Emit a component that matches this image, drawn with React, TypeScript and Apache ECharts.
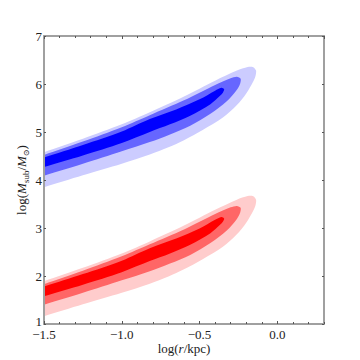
import React, { useEffect, useRef } from "react";
import * as echarts from "echarts";

// x range and tick settings
const xMin = -1.5;
const xMax = 0.3;
const yMin = 1;
const yMax = 7;

// Contours: top edge left→right, then bottom edge right→left
const blueLight: number[][] = [
  [-1.55, 4.52], [-1.5, 4.58], [-1.25, 4.86], [-1.0, 5.16], [-0.82, 5.41], [-0.6, 5.74], [-0.4, 6.07],
  [-0.26, 6.28], [-0.19, 6.355], [-0.155, 6.35], [-0.137, 6.28], [-0.14, 6.17], [-0.155, 6.05],
  [-0.2, 5.8], [-0.26, 5.56], [-0.35, 5.3], [-0.48, 5.04], [-0.6, 4.83], [-0.7, 4.68], [-0.82, 4.53],
  [-1.0, 4.34], [-1.25, 4.1], [-1.5, 3.85], [-1.55, 3.8],
];
const blueMedium: number[][] = [
  [-1.55, 4.46], [-1.5, 4.52], [-1.25, 4.8], [-1.0, 5.1], [-0.82, 5.35], [-0.6, 5.66], [-0.4, 5.98],
  [-0.3, 6.12], [-0.26, 6.15], [-0.236, 6.11], [-0.24, 6.0], [-0.26, 5.88], [-0.325, 5.64],
  [-0.43, 5.38], [-0.56, 5.13], [-0.69, 4.95], [-0.82, 4.79], [-1.0, 4.6], [-1.25, 4.34],
  [-1.5, 4.09], [-1.55, 4.04],
];
const blueDark: number[][] = [
  [-1.55, 4.42], [-1.5, 4.47], [-1.25, 4.73], [-1.0, 5.01], [-0.82, 5.27], [-0.65, 5.47], [-0.5, 5.68],
  [-0.4, 5.86], [-0.36, 5.92], [-0.342, 5.89], [-0.35, 5.82], [-0.37, 5.75], [-0.43, 5.58],
  [-0.56, 5.34], [-0.69, 5.16], [-0.82, 5.0], [-1.0, 4.77], [-1.25, 4.51], [-1.5, 4.27], [-1.55, 4.22],
];
const redLight: number[][] = [
  [-1.55, 1.83], [-1.5, 1.89], [-1.25, 2.17], [-1.0, 2.47], [-0.82, 2.72], [-0.6, 3.05], [-0.4, 3.38],
  [-0.26, 3.59], [-0.19, 3.665], [-0.155, 3.66], [-0.137, 3.59], [-0.14, 3.48], [-0.155, 3.36],
  [-0.2, 3.11], [-0.26, 2.87], [-0.35, 2.61], [-0.48, 2.35], [-0.6, 2.14], [-0.7, 1.99], [-0.82, 1.84],
  [-1.0, 1.65], [-1.25, 1.41], [-1.5, 1.16], [-1.55, 1.11],
];
const redMedium: number[][] = [
  [-1.55, 1.77], [-1.5, 1.83], [-1.25, 2.11], [-1.0, 2.41], [-0.82, 2.66], [-0.6, 2.97], [-0.4, 3.29],
  [-0.3, 3.43], [-0.26, 3.46], [-0.236, 3.42], [-0.24, 3.31], [-0.26, 3.19], [-0.325, 2.95],
  [-0.43, 2.69], [-0.56, 2.44], [-0.69, 2.26], [-0.82, 2.1], [-1.0, 1.91], [-1.25, 1.65],
  [-1.5, 1.4], [-1.55, 1.35],
];
const redDark: number[][] = [
  [-1.55, 1.73], [-1.5, 1.78], [-1.25, 2.04], [-1.0, 2.32], [-0.82, 2.58], [-0.65, 2.78], [-0.5, 2.99],
  [-0.4, 3.17], [-0.36, 3.23], [-0.342, 3.2], [-0.35, 3.13], [-0.37, 3.06], [-0.43, 2.89],
  [-0.56, 2.65], [-0.69, 2.47], [-0.82, 2.31], [-1.0, 2.08], [-1.25, 1.82], [-1.5, 1.58], [-1.55, 1.53],
];

const contours = [
  { name: "blue-1", data: blueLight, color: "#ccccff" },
  { name: "blue-2", data: blueMedium, color: "#6666ff" },
  { name: "blue-3", data: blueDark, color: "#0000ff" },
  { name: "red-1", data: redLight, color: "#ffcccc" },
  { name: "red-2", data: redMedium, color: "#ff6666" },
  { name: "red-3", data: redDark, color: "#ff0000" },
];

const FONT = "Liberation Serif";
const FRAME = "#a0a0a0";
const TICK = "#555555";
const TXT = "#222222";

function fmtX(v: number) {
  const s = Math.abs(v).toFixed(1);
  return v < -1e-9 ? "\u2212" + s : s;
}

export default function App() {
  const ref = useRef<HTMLDivElement>(null);
  useEffect(() => {
    if (!ref.current) return;
    const chart = echarts.init(ref.current, undefined, { renderer: "svg" });
    const grid = { left: 44, right: 36, top: 36, bottom: 36 };
    const baseX = {
      type: "value" as const,
      min: xMin,
      max: xMax,
      z: 10,
      splitLine: { show: false },
    };
    const baseY = {
      type: "value" as const,
      min: yMin,
      max: yMax,
      interval: 1,
      z: 10,
      splitLine: { show: false },
    };
    const rich = {
      n: { fontFamily: FONT, fontSize: 13, color: TXT, lineHeight: 18, verticalAlign: "middle" },
      i: { fontFamily: FONT, fontSize: 13, color: TXT, fontStyle: "italic", lineHeight: 18, verticalAlign: "middle" },
      s: { fontFamily: FONT, fontSize: 9, color: TXT, lineHeight: 18, verticalAlign: "bottom" },
      o: { fontFamily: "DejaVu Serif", fontSize: 8, color: TXT, lineHeight: 18, verticalAlign: "bottom" },
    };
    const option: any = {
      animation: false,
      textStyle: { fontFamily: FONT },
      grid,
      xAxis: [
        {
          ...baseX,
          position: "bottom",
          interval: 0.5,
          axisLine: { show: true, onZero: false, lineStyle: { color: FRAME, width: 2 } },
          axisTick: { show: true, inside: true, length: 3, lineStyle: { color: TICK, width: 1 } },
          axisLabel: {
            show: true,
            margin: 4,
            fontFamily: FONT,
            fontSize: 13,
            color: TXT,
            showMaxLabel: false,
            formatter: (v: number) => (v > 0.01 ? "" : fmtX(v)),
          },
          name: "{n|log(}{i|r}{n|/kpc)}",
          nameLocation: "middle",
          nameGap: 15,
          nameMoveOverlap: false,
          nameTextStyle: { rich, fontFamily: FONT },
        },
        {
          ...baseX,
          position: "bottom",
          interval: 0.1,
          axisLine: { show: false, onZero: false },
          axisTick: { show: true, inside: true, length: 2, lineStyle: { color: TICK, width: 1 } },
          axisLabel: { show: false },
        },
        {
          ...baseX,
          position: "top",
          interval: 0.5,
          axisLine: { show: true, onZero: false, lineStyle: { color: FRAME, width: 2 } },
          axisTick: { show: true, inside: true, length: 3, lineStyle: { color: TICK, width: 1 } },
          axisLabel: { show: false },
        },
        {
          ...baseX,
          position: "top",
          interval: 0.1,
          axisLine: { show: false, onZero: false },
          axisTick: { show: true, inside: true, length: 2, lineStyle: { color: TICK, width: 1 } },
          axisLabel: { show: false },
        },
      ],
      yAxis: [
        {
          ...baseY,
          position: "left",
          axisLine: { show: true, onZero: false, lineStyle: { color: FRAME, width: 2 } },
          axisTick: { show: true, inside: true, length: 2, lineStyle: { color: TICK, width: 1 } },
          axisLabel: {
            show: true,
            margin: 2,
            fontFamily: FONT,
            fontSize: 13,
            color: TXT,
            formatter: (v: number) => (v === yMin ? "{b|" + v + "}" : String(v)),
            rich: { b: { fontFamily: FONT, fontSize: 13, color: TXT, padding: [0, 0, 6, 0] } },
          },
          name: "{n|log(}{i|M}{s|sub}{n|/}{i|M}{o|\u2299}{n|)}",
          nameLocation: "middle",
          nameRotate: 90,
          nameGap: 14,
          nameMoveOverlap: false,
          nameTextStyle: { rich, fontFamily: FONT },
        },
        {
          ...baseY,
          position: "right",
          axisLine: { show: true, onZero: false, lineStyle: { color: FRAME, width: 2 } },
          axisTick: { show: true, inside: true, length: 2, lineStyle: { color: TICK, width: 1 } },
          axisLabel: { show: false },
        },
      ],
      series: contours.map((c) => ({
        type: "custom",
        name: c.name,
        xAxisIndex: 0,
        yAxisIndex: 0,
        clip: true,
        data: c.data,
        encode: { x: 0, y: 1 },
        renderItem: (params: any, api: any) => {
          if (params.dataIndex !== 0) return null;
          const pts = c.data.map((p) => api.coord(p));
          return {
            type: "polygon",
            shape: { points: pts, smooth: 0.3 },
            style: { fill: c.color, stroke: null },
          };
        },
      })),
    };
    chart.setOption(option);
    return () => chart.dispose();
  }, []);
  return (
    <div
      ref={ref}
      style={{ position: "fixed", left: 0, top: 0, width: 360, height: 360, background: "#fff" }}
    />
  );
}
